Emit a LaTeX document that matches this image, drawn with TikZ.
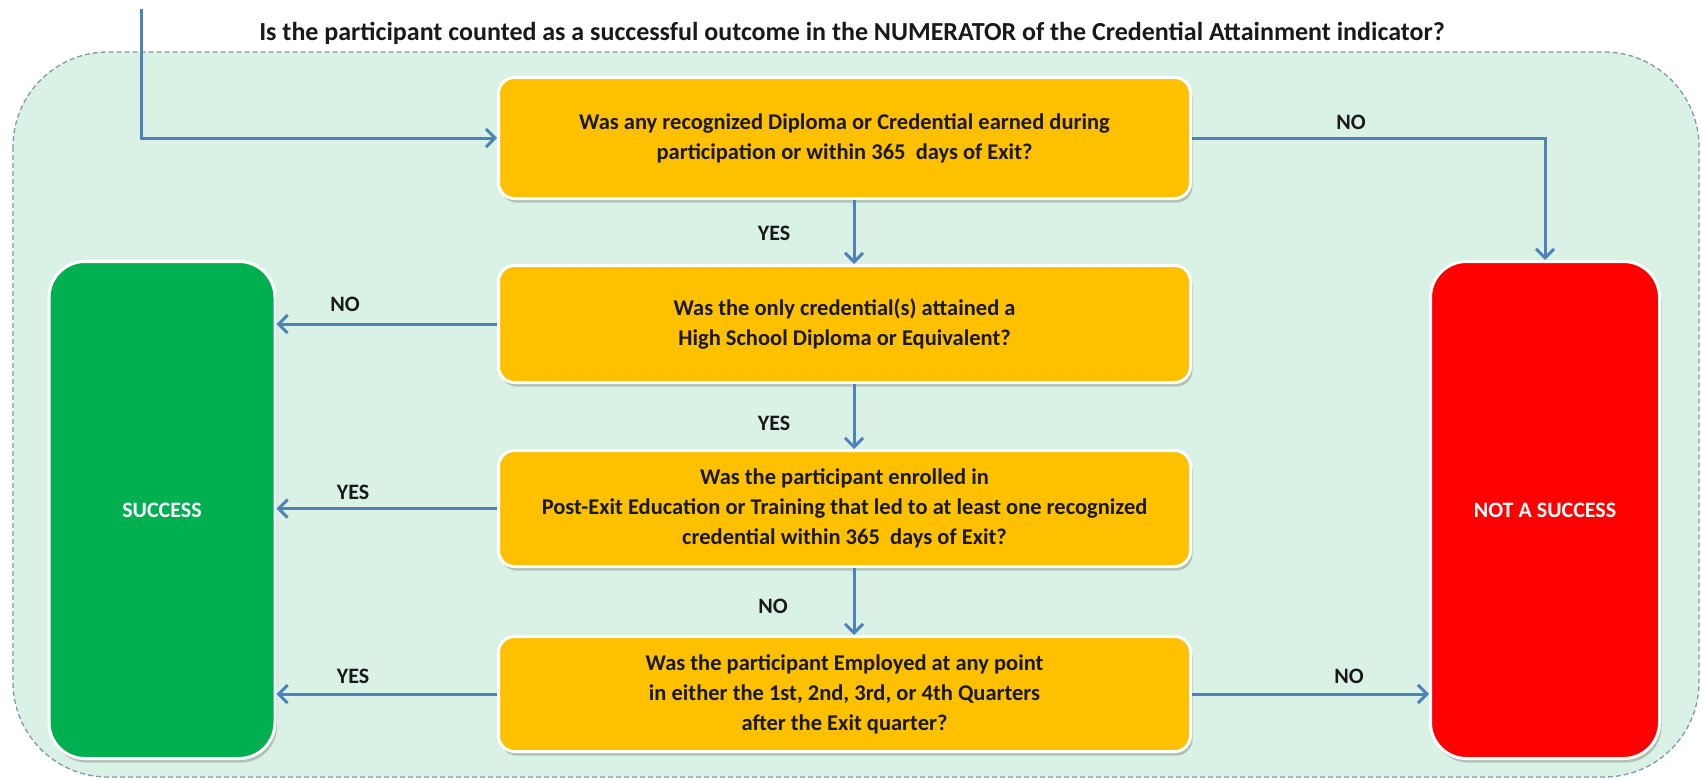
\documentclass[tikz,border=0pt]{standalone}
\usepackage{fontspec}
\setmainfont{Carlito}
\usetikzlibrary{arrows.meta,shadows}
\definecolor{bgmint}{HTML}{D9F2E5}
\definecolor{dashc}{HTML}{8497B0}
\definecolor{qyellow}{HTML}{FFC000}
\definecolor{okgreen}{HTML}{00AF50}
\definecolor{nored}{HTML}{FF0000}
\definecolor{arrowc}{HTML}{4F81BD}
\tikzset{
  boxshadow/.style={drop shadow={shadow xshift=2pt, shadow yshift=-4pt, opacity=0.35, fill=black!60}},
  qbox/.style={draw=white, line width=3pt, fill=qyellow, rounded corners=16pt,
    minimum width=692pt, minimum height=118pt, align=center, text=black!90,
    font=\fontsize{22.5}{30}\selectfont\bfseries, boxshadow},
  endbox/.style={draw=white, line width=3pt, rounded corners=36pt,
    minimum width=226pt, minimum height=497pt, text=white,
    font=\fontsize{22}{26}\selectfont\bfseries, boxshadow},
  arr/.style={draw=arrowc, line width=3pt, -{Straight Barb[length=9pt,width=18pt,line width=3pt]}},
  lbl/.style={font=\fontsize{22}{26}\selectfont\bfseries, text=black!90},
}
\begin{document}
\begin{tikzpicture}[x=1pt,y=-1pt]
\useasboundingbox (0,0) rectangle (1702,779);
\path[fill=bgmint, draw=dashc, line width=1.3pt, dash pattern=on 5pt off 3pt, rounded corners=95pt] (13,52) rectangle (1699,777);
\node[font=\fontsize{26}{30}\selectfont\bfseries, text=black!90] (title) at (852,33) {Is the participant counted as a successful outcome in the NUMERATOR of the Credential Attainment indicator?};

\node[qbox, minimum height=121pt] (b1) at (844.5,138) {Was any recognized Diploma or Credential earned during\\participation or within 365\ \ days of Exit?};
\node[qbox, minimum height=117pt] (b2) at (844.5,324) {Was the only credential(s) attained a\\High School Diploma or Equivalent?};
\node[qbox, minimum height=116pt] (b3) at (844.5,508.5) {Was the participant enrolled in\\Post-Exit Education or Training that led to at least one recognized\\credential within 365\ \ days of Exit?};
\node[qbox, minimum height=115pt] (b4) at (844.5,694) {Was the participant Employed at any point\\in either the 1st, 2nd, 3rd, or 4th Quarters\\after the Exit quarter?};

\node[endbox, fill=okgreen] (ok) at (162,510) {SUCCESS};
\node[endbox, fill=nored, minimum width=229pt] (no) at (1545,510) {NOT A SUCCESS};

\coordinate (start) at (141,9);
\coordinate (xa) at (854,0);

\draw[arr] (start) |- (b1.west);
\draw[arr] (b1.east) -| (no.north);
\draw[arr] (b1.south -| xa) -- (b2.north -| xa);
\draw[arr] (b2.south -| xa) -- (b3.north -| xa);
\draw[arr] (b3.south -| xa) -- (b4.north -| xa);
\draw[arr] (b2.west) -- (b2.west -| ok.east);
\draw[arr] (b3.west) -- (b3.west -| ok.east);
\draw[arr] (b4.west) -- (b4.west -| ok.east);
\draw[arr] (b4.east) -- (b4.east -| no.west);

\node[lbl] (l1) at (1351,122) {NO};
\node[lbl] (l2) at (774,233) {YES};
\node[lbl] (l3) at (345,304) {NO};
\node[lbl] (l4) at (774,423) {YES};
\node[lbl] (l5) at (353,492) {YES};
\node[lbl] (l6) at (773,606) {NO};
\node[lbl] (l7) at (353,676) {YES};
\node[lbl] (l8) at (1349,676) {NO};
\end{tikzpicture}
\end{document}
